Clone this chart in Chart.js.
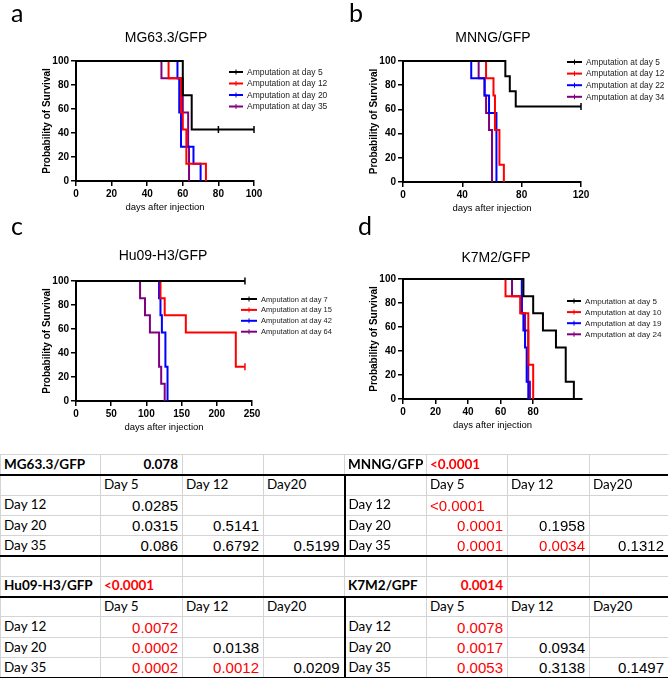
<!DOCTYPE html>
<html>
<head>
<meta charset="utf-8">
<script src="https://cdn.jsdelivr.net/npm/chart.js@4.4.0/dist/chart.umd.min.js"></script>
<style>
  body { margin: 0; background: #fff; }
  #page { position: relative; width: 668px; height: 678px; overflow: hidden; background: #fff; }
  canvas { position: absolute; }
  .letter { position: absolute; font: 25px/25px Lato, sans-serif; color: #000; }
  .title { position: absolute; width: 200px; text-align: center; font: 14px/16px "Liberation Sans", Arial, sans-serif; color: #000; }
  table { position: absolute; left: 0; top: 454px; width: 668px; border-collapse: collapse; table-layout: fixed; }
  tr { height: 20.3px; }
  td { border: 1px solid #d4d4d4; padding: 0 4px 0 3px; white-space: nowrap; overflow: hidden;
       font: 13.5px/1 Lato, sans-serif; color: #000; vertical-align: middle; }
  td.num { font-family: "Liberation Sans", Arial, sans-serif; font-size: 15px; text-align: right; }
  td.str { font-family: "Liberation Sans", Arial, sans-serif; font-size: 15px; text-align: left; }
  td.b { font-weight: bold; font-family: Lato, sans-serif; font-size: 13.5px; }
  td.red { color: #ff0000; }
  td.tb { border-bottom: 2px solid #000; }
  td.tr { border-right: 2px solid #000; }
</style>
</head>
<body>
<div id="page">
  <canvas id="chartA" width="334" height="222" style="left:0;top:0"></canvas>
  <canvas id="chartB" width="334" height="222" style="left:334px;top:0"></canvas>
  <canvas id="chartC" width="340" height="222" style="left:0;top:222px"></canvas>
  <canvas id="chartD" width="334" height="222" style="left:334px;top:222px"></canvas>

  <div class="letter" style="left:11px;top:0">a</div>
  <div class="letter" style="left:349px;top:0">b</div>
  <div class="letter" style="left:11px;top:213px">c</div>
  <div class="letter" style="left:358px;top:213px">d</div>

  <div class="title" style="left:66px;top:29px">MG63.3/GFP</div>
  <div class="title" style="left:393px;top:29px">MNNG/GFP</div>
  <div class="title" style="left:63px;top:247px">Hu09-H3/GFP</div>
  <div class="title" style="left:396px;top:249px">K7M2/GFP</div>

  <table id="pvals"></table>
</div>

<script>
// survival curves: [day, % surviving], censored days listed separately
const mg_d5  = [[0,100],[60,71.4],[65,42.9],[80,42.9],[100,42.9]];
const mg_d12 = [[0,100],[52,85.7],[59,57.1],[60,42.9],[62,14.3],[73,0]];
const mg_d20 = [[0,100],[57,85.7],[58,57.1],[59,28.6],[66,14.3],[70,0]];
const mg_d35 = [[0,100],[48,85.7],[60,57.1],[63,28.6],[63.5,0]];
const mg_cens = [80, 100];

const mn_d5  = [[0,100],[69,87.5],[72,75],[76,62.5],[120,62.5]];
const mn_d12 = [[0,100],[56,85.7],[61,71.4],[62,42.9],[65,14.3],[68,0]];
const mn_d22 = [[0,100],[46,85.7],[55,71.4],[58,57.1],[63,0]];
const mn_d34 = [[0,100],[51,85.7],[55,71.4],[56,57.1],[58,42.9],[60,0]];
const mn_cens = [120];

const hu_d7  = [[0,100],[240,100]];
const hu_d15 = [[0,100],[120,85.7],[126,71.4],[156,57.1],[227,28.6],[240,28.6]];
const hu_d42 = [[0,100],[118,85.7],[120,71.4],[122,57.1],[127,28.6],[130,0]];
const hu_d64 = [[0,100],[91,85.7],[98,71.4],[105,57.1],[118,28.6],[121,14.3],[126,0]];
const hu_cens = [240];

const k7_d5  = [[0,100],[74,85.7],[80,71.4],[86,57.1],[94,42.9],[100,14.3],[105,0]];
const k7_d10 = [[0,100],[63,85.7],[72,71.4],[77,28.6],[80,0]];
const k7_d19 = [[0,100],[73,71.4],[74,57.1],[75,42.9],[76,14.3],[77,0]];
const k7_d24 = [[0,100],[67,85.7],[73,71.4],[75,57.1],[77,14.3],[78,0]];
const k7_cens = [];

const yTicks = [0, 20, 40, 60, 80, 100];

// p value tables
const colHeads = ['Day 5', 'Day 12', 'Day20'];
const rowHeads = ['Day 12', 'Day 20', 'Day 35'];
const mgTitle = ['MG63.3/GFP', '0.078'];
const mgP = [['0.0285'], ['0.0315', '0.5141'], ['0.086', '0.6792', '0.5199']];
const mnTitle = ['MNNG/GFP', '<0.0001'];
const mnP = [['<0.0001'], ['0.0001', '0.1958'], ['0.0001', '0.0034', '0.1312']];
const huTitle = ['Hu09-H3/GFP', '<0.0001'];
const huP = [['0.0072'], ['0.0002', '0.0138'], ['0.0002', '0.0012', '0.0209']];
const k7Title = ['K7M2/GPF', '0.0014'];
const k7P = [['0.0078'], ['0.0017', '0.0934'], ['0.0053', '0.3138', '0.1497']];
const alpha = 0.05 / 6;

const BLACK = '#000000', RED = '#ff0000', BLUE = '#0000ff', PURPLE = '#800080';

// legend drawn like the Prism one: short line with a tick, label to the right
const kmLegend = {
  id: 'kmLegend',
  afterDraw(chart, args, o) {
    const ctx = chart.ctx;
    ctx.save();
    ctx.font = o.size + 'px "Liberation Sans", Arial, sans-serif';
    ctx.textBaseline = 'middle';
    chart.data.datasets.forEach((ds, i) => {
      const y = o.y + i * o.dy;
      ctx.strokeStyle = ds.borderColor;
      ctx.lineWidth = 2;
      ctx.beginPath();
      ctx.moveTo(o.x, y);
      ctx.lineTo(o.x + o.w, y);
      ctx.stroke();
      ctx.lineWidth = 1;
      ctx.beginPath();
      ctx.moveTo(o.x + o.w / 2, y - 2.5);
      ctx.lineTo(o.x + o.w / 2, y + 2.5);
      ctx.stroke();
      ctx.fillStyle = '#222';
      ctx.fillText(ds.label, o.x + o.w + 4, y + 0.5);
    });
    ctx.restore();
  }
};

function series(label, color, pts, cens) {
  return {
    label: label,
    borderColor: color,
    backgroundColor: color,
    data: pts.map(p => ({ x: p[0], y: p[1] })),
    stepped: true,
    borderWidth: 2,
    fill: false,
    pointRadius: pts.map((p, i) => (i > 0 && cens.includes(p[0])) ? 3.5 : 0),
    pointStyle: 'line',
    rotation: 90,
    pointBorderWidth: 1.5,
    clip: 8
  };
}

function kmChart(id, sets, xMax, xStep, pad, legend) {
  return new Chart(document.getElementById(id), {
    type: 'line',
    data: { datasets: sets },
    plugins: [kmLegend],
    options: {
      responsive: false,
      animation: false,
      events: [],
      layout: { padding: pad },
      plugins: {
        legend: { display: false },
        tooltip: { enabled: false },
        kmLegend: legend
      },
      scales: {
        x: {
          type: 'linear', min: 0, max: xMax,
          afterBuildTicks: s => { s.ticks = s.ticks.filter(t => t.value % xStep === 0); },
          afterFit: s => { s.height = 32; },
          ticks: { stepSize: xStep, padding: 2, color: '#000', maxRotation: 0,
                   font: { size: 10, weight: 'bold' } },
          grid: { drawOnChartArea: false, tickLength: 5, color: '#000', lineWidth: 1.5 },
          border: { color: '#000', width: 2 },
          title: { display: true, text: 'days after injection', color: '#000',
                   font: { size: 9.5 }, padding: 0 }
        },
        y: {
          min: 0, max: 100,
          afterBuildTicks: s => { s.ticks = yTicks.map(v => ({ value: v })); },
          afterFit: s => { s.width = 36; },
          ticks: { padding: 2, color: '#000', font: { size: 10, weight: 'bold' } },
          grid: { drawOnChartArea: false, tickLength: 5, color: '#000', lineWidth: 1.5 },
          border: { color: '#000', width: 2 },
          title: { display: true, text: 'Probability of Survival', color: '#000',
                   font: { size: 10, weight: 'bold' }, padding: { top: 1, bottom: 0 } }
        }
      }
    }
  });
}

Chart.defaults.font.family = '"Liberation Sans", Arial, sans-serif';

kmChart('chartA', [
  series('Amputation at day 5', BLACK, mg_d5, mg_cens),
  series('Amputation at day 12', RED, mg_d12, mg_cens),
  series('Amputation at day 20', BLUE, mg_d20, mg_cens),
  series('Amputation at day 35', PURPLE, mg_d35, mg_cens)
], 100, 20, { left: 40, right: 80, top: 61, bottom: 9 }, { x: 229, y: 72, dy: 11.5, w: 14, size: 8.5 });

kmChart('chartB', [
  series('Amputation at day 5', BLACK, mn_d5, mn_cens),
  series('Amputation at day 12', RED, mn_d12, mn_cens),
  series('Amputation at day 22', BLUE, mn_d22, mn_cens),
  series('Amputation at day 34', PURPLE, mn_d34, mn_cens)
], 120, 40, { left: 33, right: 87, top: 61, bottom: 8 }, { x: 233, y: 62, dy: 11.6, w: 15, size: 8.3 });

kmChart('chartC', [
  series('Amputation at day 7', BLACK, hu_d7, hu_cens),
  series('Amputation at day 15', RED, hu_d15, hu_cens),
  series('Amputation at day 42', BLUE, hu_d42, hu_cens),
  series('Amputation at day 64', PURPLE, hu_d64, hu_cens)
], 250, 50, { left: 40, right: 88, top: 59, bottom: 11 }, { x: 241, y: 77, dy: 10.9, w: 16, size: 7.5 });

kmChart('chartD', [
  series('Amputation at day 5', BLACK, k7_d5, k7_cens),
  series('Amputation at day 10', RED, k7_d10, k7_cens),
  series('Amputation at day 19', BLUE, k7_d19, k7_cens),
  series('Amputation at day 24', PURPLE, k7_d24, k7_cens)
], 110, 20, { left: 33, right: 86, top: 57, bottom: 13 }, { x: 233, y: 79, dy: 11.1, w: 14, size: 8.1 });

// ---- p value table ----
function isRed(v) {
  return v.startsWith('<') || parseFloat(v) < alpha;
}
function cell(v, cls) {
  const td = document.createElement('td');
  td.textContent = v;
  if (cls) td.className = cls;
  return td;
}
function valCell(v, extra) {
  let cls = v.startsWith('<') ? 'str' : 'num';
  if (isRed(v)) cls += ' red';
  return cell(v, cls + (extra || ''));
}
function titleCells(t, tr) {
  tr.appendChild(cell(t[0], 'b tb'));
  const c = cell(t[1], 'b tb' + (isRed(t[1]) ? ' red' : ''));
  c.style.textAlign = t[1].startsWith('<') ? 'left' : 'right';
  tr.appendChild(c);
  tr.appendChild(cell('', 'tb'));
  tr.appendChild(cell('', 'tb'));
}
function addPair(tbl, tL, pL, tR, pR) {
  let tr = tbl.insertRow();
  titleCells(tL, tr);
  titleCells(tR, tr);
  tr = tbl.insertRow();
  [0, 1].forEach(side => {
    tr.appendChild(cell(''));
    colHeads.forEach((h, j) => tr.appendChild(cell(h, (side === 0 && j === 2) ? 'tr' : '')));
  });
  rowHeads.forEach((rh, i) => {
    tr = tbl.insertRow();
    const last = i === rowHeads.length - 1 ? ' tb' : '';
    [pL, pR].forEach((p, side) => {
      tr.appendChild(cell(rh, last.trim()));
      for (let j = 0; j < 3; j++) {
        const v = p[i][j];
        const edge = (side === 0 && j === 2) ? ' tr' : '';
        if (v === undefined) tr.appendChild(cell('', (edge + last).trim()));
        else tr.appendChild(valCell(v, edge + last));
      }
    });
  });
}

const tbl = document.getElementById('pvals');
const cg = document.createElement('colgroup');
[100, 82, 81, 81, 82, 81, 82, 79].forEach(w => {
  const col = document.createElement('col');
  col.style.width = w + 'px';
  cg.appendChild(col);
});
tbl.appendChild(cg);
addPair(tbl, mgTitle, mgP, mnTitle, mnP);
const blank = tbl.insertRow();
for (let i = 0; i < 8; i++) blank.appendChild(cell(''));
addPair(tbl, huTitle, huP, k7Title, k7P);
</script>
</body>
</html>
